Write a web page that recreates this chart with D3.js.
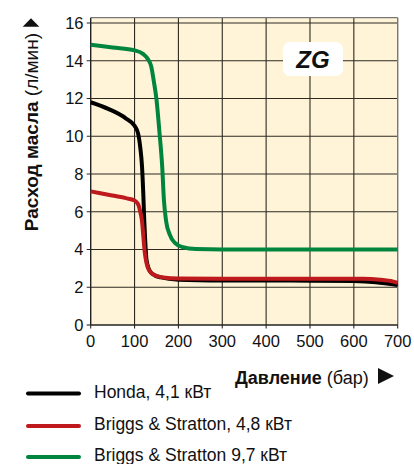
<!DOCTYPE html>
<html><head><meta charset="utf-8">
<script src="https://cdn.jsdelivr.net/npm/d3@7"></script>
<style>
body{margin:0;background:#fff}
svg{display:block}
text{font-family:"Liberation Sans",Arial,Helvetica,sans-serif;fill:#111}
</style>
</head><body>
<svg id="c" width="414" height="464"></svg>
<script>
// ---- data ----
const xTicks = [0, 100, 200, 300, 400, 500, 600, 700];
const yTicks = [0, 2, 4, 6, 8, 10, 12, 14, 16];
const seriesNames = ["Honda, 4,1 кВт", "Briggs & Stratton, 4,8 кВт", "Briggs & Stratton 9,7 кВт"];
const seriesColors = ["#000000", "#be1a1d", "#00853f"];

const hondaP = [0, 40, 80, 100, 108, 113, 117, 120, 122, 124, 127, 132, 140, 160, 200, 300, 500, 600, 650, 700];
const hondaQ = [11.8, 11.45, 10.95, 10.55, 10.15, 9.4, 8.4, 6.9, 5.6, 4.6, 3.5, 3.0, 2.72, 2.52, 2.4, 2.36, 2.35, 2.33, 2.27, 2.12];

const bs48P = [0, 40, 80, 100, 108, 113, 117, 120, 123, 127, 133, 145, 165, 200, 300, 500, 620, 660, 690, 700];
const bs48Q = [7.08, 6.9, 6.72, 6.6, 6.4, 6.0, 5.5, 4.7, 3.9, 3.3, 2.9, 2.65, 2.52, 2.46, 2.45, 2.45, 2.45, 2.4, 2.3, 2.24];

const bs97P = [0, 50, 100, 120, 130, 138, 144, 150, 157, 163, 167, 172, 180, 192, 210, 240, 300, 700];
const bs97Q = [14.85, 14.7, 14.55, 14.35, 14.1, 13.7, 12.9, 11.95, 10.15, 8.4, 6.6, 5.5, 4.8, 4.35, 4.12, 4.02, 4.0, 4.0];

const xTitleBold = "Давление", xTitleReg = " (бар)";
const yTitleBold = "Расход масла", yTitleReg = " (л/мин)";
const badge = "ZG";

// ---- drawing ----
const svg = d3.select("#c");
const x = d3.scaleLinear().domain([0, 700]).range([90.7, 397.7]);
const y = d3.scaleLinear().domain([0, 16.28]).range([325, 17.7]);
const yTop = 16.28;

svg.append("rect").attr("x", x(0)).attr("y", y(yTop))
  .attr("width", x(700) - x(0)).attr("height", y(0) - y(yTop))
  .attr("fill", "#fff4d8");

// grid
const g = svg.append("g").attr("stroke", "#2e2a22").attr("stroke-width", 1.1);
g.selectAll(".vg").data(xTicks.filter(d => d > 0 && d < 700)).join("line")
  .attr("x1", d => x(d)).attr("x2", d => x(d)).attr("y1", y(yTop)).attr("y2", y(0) + 3.5);
g.selectAll(".hg").data(yTicks.filter(d => d > 0)).join("line")
  .attr("x1", x(0) - 4).attr("x2", x(700)).attr("y1", d => y(d)).attr("y2", d => y(d));
g.append("line").attr("x1", x(0)).attr("x2", x(0)).attr("y1", y(0)).attr("y2", y(0) + 3.5);
g.append("line").attr("x1", x(700)).attr("x2", x(700)).attr("y1", y(0)).attr("y2", y(0) + 3.5);
g.append("line").attr("x1", x(0) - 4).attr("x2", x(0)).attr("y1", y(0)).attr("y2", y(0));

// frame
svg.append("line").attr("x1", x(0)).attr("x2", x(700)).attr("y1", y(yTop)).attr("y2", y(yTop)).attr("stroke", "#777").attr("stroke-width", 1.2);
svg.append("line").attr("x1", x(700)).attr("x2", x(700)).attr("y1", y(yTop)).attr("y2", y(0)).attr("stroke", "#777").attr("stroke-width", 1.4);
svg.append("line").attr("x1", x(0)).attr("x2", x(0)).attr("y1", y(yTop)).attr("y2", y(0)).attr("stroke", "#222").attr("stroke-width", 1.4);
svg.append("line").attr("x1", x(0)).attr("x2", x(700)).attr("y1", y(0)).attr("y2", y(0)).attr("stroke", "#222").attr("stroke-width", 1.4);

// tick labels
svg.selectAll(".xl").data(xTicks).join("text")
  .attr("x", d => x(d)).attr("y", y(0) + 22).attr("text-anchor", "middle")
  .attr("font-size", 16.5).text(d => d);
svg.selectAll(".yl").data(yTicks).join("text")
  .attr("x", 83.5).attr("y", d => y(d) + 6).attr("text-anchor", "end")
  .attr("font-size", 16.5).text(d => d);

// curves
const line = d3.line().x(d => x(d[0])).y(d => y(d[1])).curve(d3.curveMonotoneX);
const series = [
  {p: hondaP, q: hondaQ, c: seriesColors[0]},
  {p: bs48P, q: bs48Q, c: seriesColors[1]},
  {p: bs97P, q: bs97Q, c: seriesColors[2]}
];
series.forEach(s => {
  svg.append("path").datum(s.p.map((v, i) => [v, s.q[i]]))
    .attr("d", line).attr("fill", "none").attr("stroke", s.c)
    .attr("stroke-width", 4).attr("stroke-linejoin", "round").attr("stroke-linecap", "butt");
});

// ZG badge
svg.append("rect").attr("x", 283).attr("y", 42).attr("width", 60).attr("height", 34)
  .attr("rx", 7).attr("fill", "#ffffff");
svg.append("text").attr("x", 313).attr("y", 67.5).attr("text-anchor", "middle")
  .attr("font-size", 24).attr("font-weight", "bold").attr("font-style", "italic").text(badge);

// y title
const yt = svg.append("text").attr("transform", "translate(37.5,33) rotate(-90)")
  .attr("text-anchor", "end").attr("font-size", 19);
yt.append("tspan").attr("font-weight", "bold").text(yTitleBold);
yt.append("tspan").text(yTitleReg);
svg.append("path").attr("d", "M22.7,26.7 L39.3,26.7 L31,18.3 Z").attr("fill", "#111");

// x title
const xt = svg.append("text").attr("x", 235).attr("y", 384).attr("font-size", 18);
xt.append("tspan").attr("font-weight", "bold").text(xTitleBold);
xt.append("tspan").text(xTitleReg);
svg.append("path").attr("d", "M378,368 L378,384 L394,376 Z").attr("fill", "#111");

// legend
const lg = svg.append("g");
const legY = [397.5, 430, 461];
seriesNames.forEach((n, i) => {
  lg.append("line").attr("x1", 28).attr("x2", 79).attr("y1", legY[i] - 4).attr("y2", legY[i] - 4)
    .attr("stroke", seriesColors[i]).attr("stroke-width", 4).attr("stroke-linecap", "round");
  lg.append("text").attr("x", 94).attr("y", legY[i]).attr("font-size", 17.5).text(n);
});
</script>
</body></html>
